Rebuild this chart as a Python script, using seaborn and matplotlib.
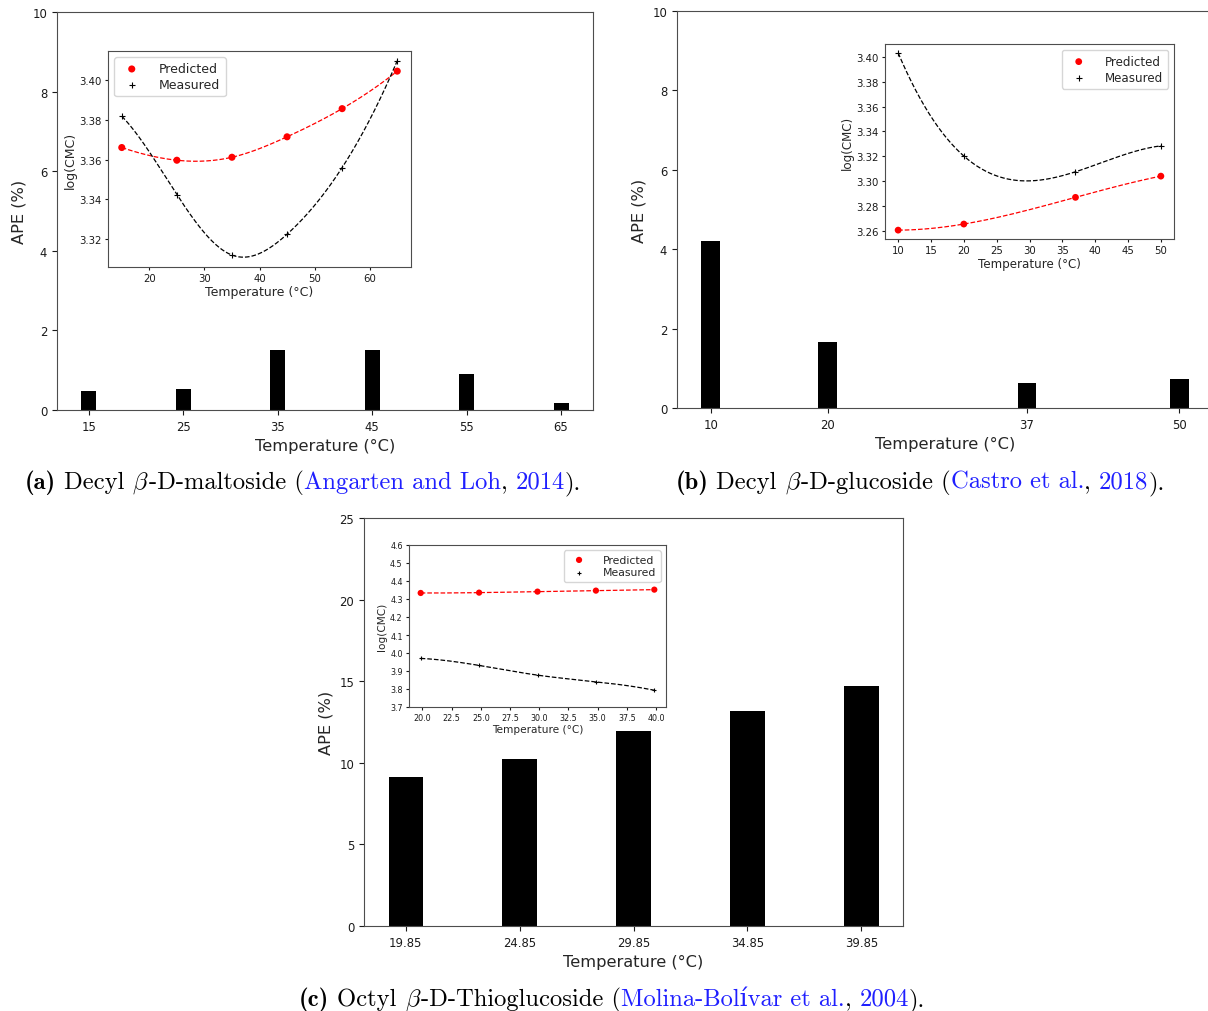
import numpy as np
import pandas as pd
import matplotlib
matplotlib.use("Agg")
import matplotlib.pyplot as plt
import seaborn as sns

# ---------------- data ----------------
temps_a = [15, 25, 35, 45, 55, 65]
ape_a = [0.47, 0.52, 1.51, 1.51, 0.90, 0.17]
pred_a = [3.3661, 3.3597, 3.3612, 3.3715, 3.3857, 3.4046]
meas_a = [3.3819, 3.3424, 3.3119, 3.3224, 3.3560, 3.4098]

temps_b = [10, 20, 37, 50]
ape_b = [4.20, 1.66, 0.63, 0.73]
pred_b = [3.2605, 3.2654, 3.2869, 3.3040]
meas_b = [3.4033, 3.3202, 3.3075, 3.3284]

temps_c = [19.85, 24.85, 29.85, 34.85, 39.85]
ape_c = [9.12, 10.22, 11.94, 13.16, 14.69]
pred_c = [4.3335, 4.3354, 4.3410, 4.3466, 4.3520]
meas_c = [3.970, 3.931, 3.877, 3.840, 3.793]

xticklabels_a = ["15", "25", "35", "45", "55", "65"]
xticklabels_b = ["10", "20", "37", "50"]
xticklabels_c = ["19.85", "24.85", "29.85", "34.85", "39.85"]

# ---------------- style ----------------
sns.set_style("ticks", rc={
    "axes.edgecolor": "0.3",
    "axes.linewidth": 0.9,
    "xtick.color": "0.1",
    "ytick.color": "0.1",
    "xtick.major.size": 3.5,
    "ytick.major.size": 3.5,
    "xtick.major.width": 0.8,
    "ytick.major.width": 0.8,
})
plt.rcParams["font.family"] = ["DejaVu Sans"]
plt.rcParams["mathtext.fontset"] = "cm"


def spline(x, y, num=300):
    """Not-a-knot cubic spline through the points (smooth dashed curve)."""
    x = np.asarray(x, float)
    y = np.asarray(y, float)
    m = len(x) - 1
    A = np.zeros((4 * m, 4 * m))
    b = np.zeros(4 * m)
    r = 0
    for i in range(m):
        h = x[i + 1] - x[i]
        A[r, 4 * i] = 1; b[r] = y[i]; r += 1
        A[r, 4 * i:4 * i + 4] = [1, h, h * h, h ** 3]; b[r] = y[i + 1]; r += 1
    for i in range(m - 1):
        h = x[i + 1] - x[i]
        A[r, 4 * i:4 * i + 4] = [0, 1, 2 * h, 3 * h * h]; A[r, 4 * (i + 1) + 1] = -1; r += 1
        A[r, 4 * i:4 * i + 4] = [0, 0, 2, 6 * h]; A[r, 4 * (i + 1) + 2] = -2; r += 1
    A[r, 3] = 1; A[r, 7] = -1; r += 1
    A[r, 4 * (m - 2) + 3] = 1; A[r, 4 * (m - 1) + 3] = -1; r += 1
    c = np.linalg.solve(A, b).reshape(m, 4)
    xs = np.linspace(x[0], x[-1], num)
    idx = np.clip(np.searchsorted(x, xs, side="right") - 1, 0, m - 1)
    t = xs - x[idx]
    ys = c[idx, 0] + c[idx, 1] * t + c[idx, 2] * t ** 2 + c[idx, 3] * t ** 3
    return xs, ys


W, H = 1208, 1012
fig = plt.figure(figsize=(W / 100, H / 100), dpi=100)


def rect(l, r, t, btm):
    return [l / W, 1 - btm / H, (r - l) / W, (btm - t) / H]


def panel(main_r, ins_r, temps, ape, pred, meas, bw, ylim, yticks, xtl,
          ins_fs, leg_loc, msz, ins_ylim=None, ins_xticks=None, ins_yticks=None, ins_yfmt=None):
    ax = fig.add_axes(main_r)
    df = pd.DataFrame({"T": temps, "APE": ape})
    sns.barplot(data=df, x="T", y="APE", native_scale=True, width=bw, color="black",
                saturation=1, errorbar=None, linewidth=0, edgecolor="none", ax=ax)
    ax.set_ylim(*ylim)
    ax.set_yticks(yticks)
    ax.set_xticks(temps)
    ax.set_xticklabels(xtl)
    ax.tick_params(labelsize=8.4)
    ax.set_xlabel("Temperature (°C)", fontsize=11.7)
    ax.set_ylabel("APE (%)", fontsize=11.7)

    ins = fig.add_axes(ins_r)
    xs, ys = spline(temps, pred)
    sns.lineplot(x=xs, y=ys, color="red", linestyle="--", linewidth=0.9, ax=ins, sort=False)
    xs, ys = spline(temps, meas)
    sns.lineplot(x=xs, y=ys, color="black", linestyle="--", linewidth=0.9, ax=ins, sort=False)
    sns.scatterplot(x=temps, y=pred, color="red", marker="o", s=msz[0], edgecolor="none",
                    label="Predicted", ax=ins, zorder=3)
    sns.scatterplot(x=temps, y=meas, color="black", marker="+", s=msz[1], linewidth=0.8,
                    label="Measured", ax=ins, zorder=3)
    tfs, lfs, gfs = ins_fs
    if ins_ylim is not None:
        ins.set_ylim(*ins_ylim)
    if ins_xticks is not None:
        ins.set_xticks(ins_xticks)
    if ins_yticks is not None:
        ins.set_yticks(ins_yticks)
    if ins_yfmt is not None:
        ins.yaxis.set_major_formatter(matplotlib.ticker.FormatStrFormatter(ins_yfmt))
    ins.tick_params(labelsize=tfs, length=2.5, pad=2)
    ins.set_xlabel("Temperature (°C)", fontsize=lfs, labelpad=1)
    ins.set_ylabel("log(CMC)", fontsize=lfs, labelpad=2)
    ins.legend(loc=leg_loc, fontsize=gfs, handletextpad=1.2, borderpad=0.4,
               labelspacing=0.25)
    return ax, ins


panel(rect(57, 593, 13, 411), rect(108, 411, 52, 268), temps_a, ape_a, pred_a, meas_a,
      0.16, (0, 10), [0, 2, 4, 6, 8, 10], xticklabels_a, (7.3, 9.0, 9.0), "upper left", (26, 16),
      ins_xticks=[20, 30, 40, 50, 60], ins_yticks=[3.32, 3.34, 3.36, 3.38, 3.40], ins_yfmt="%.2f")

panel(rect(677, 1213, 12, 409), rect(885, 1174, 45, 240), temps_b, ape_b, pred_b, meas_b,
      0.16, (0, 10), [0, 2, 4, 6, 8, 10], xticklabels_b, (7.3, 8.6, 8.6), "upper right", (24, 16),
      ins_xticks=[10, 15, 20, 25, 30, 35, 40, 45, 50],
      ins_yticks=[3.26, 3.28, 3.30, 3.32, 3.34, 3.36, 3.38, 3.40], ins_yfmt="%.2f")

panel(rect(364, 903, 519, 927), rect(409, 666, 546, 708), temps_c, ape_c, pred_c, meas_c,
      0.3, (0, 25), [0, 5, 10, 15, 20, 25], xticklabels_c, (5.8, 7.6, 7.8), "upper right", (20, 9),
      ins_ylim=(3.7, 4.6), ins_xticks=[20, 22.5, 25, 27.5, 30, 32.5, 35, 37.5, 40],
      ins_yticks=[3.7, 3.8, 3.9, 4.0, 4.1, 4.2, 4.3, 4.4, 4.5, 4.6], ins_yfmt="%.1f")

# ---------------- captions ----------------
BLUE = "#1f1fff"
reg = dict(family=["cmr10", "DejaVu Serif"])
bold = dict(family=["cmb10", "DejaVu Serif"])
CAP_FS = 17.7


def caption(cx, baseline, segments):
    renderer = fig.canvas.get_renderer()
    texts = []
    for s, color, fp in segments:
        t = fig.text(0, 1 - baseline / H, s, color=color, fontsize=CAP_FS, va="baseline",
                     ha="left", **fp)
        texts.append(t)
    widths = [t.get_window_extent(renderer).width for t in texts]
    total = sum(widths)
    x = cx - total / 2
    for t, w in zip(texts, widths):
        t.set_x(x / W)
        x += w


sp = " "
caption(303, 489, [
    ("(a)", "black", bold), (sp, "black", reg), ("Decyl" + sp, "black", reg),
    (r"$\beta$", "black", {}), ("-D-maltoside (", "black", reg),
    ("Angarten and Loh", BLUE, reg), (", ", "black", reg), ("2014", BLUE, reg),
    (").", "black", reg)])
caption(920, 489, [
    ("(b)", "black", bold), (sp, "black", reg), ("Decyl" + sp, "black", reg),
    (r"$\beta$", "black", {}), ("-D-glucoside (", "black", reg),
    ("Castro et al.", BLUE, reg), (", ", "black", reg), ("2018", BLUE, reg),
    (").", "black", reg)])
caption(612, 1006, [
    ("(c)", "black", bold), (sp, "black", reg), ("Octyl" + sp, "black", reg),
    (r"$\beta$", "black", {}), ("-D-Thioglucoside (", "black", reg),
    ("Molina-Bolívar et al.", BLUE, reg), (", ", "black", reg), ("2004", BLUE, reg),
    (").", "black", reg)])

fig.savefig("out.png", dpi=100)
